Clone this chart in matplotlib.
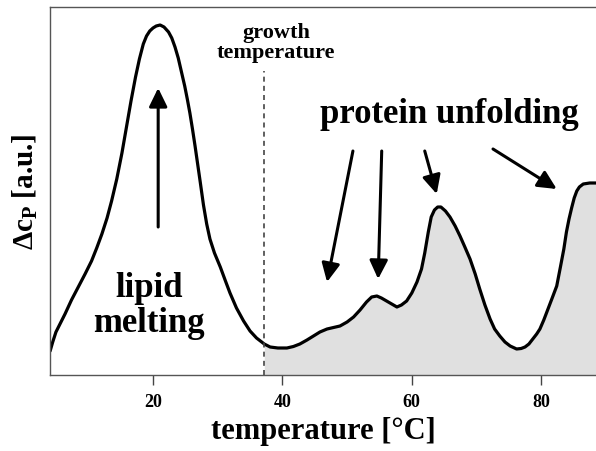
import matplotlib
matplotlib.use("Agg")
import matplotlib.pyplot as plt
import numpy as np

# DSC trace (temperature in °C, delta cp in arbitrary units)
temperature = [4.1, 4.5, 5.0, 5.7, 6.4, 7.4, 8.45, 9.5, 10.5, 11.3, 12.1, 12.9, 13.6,
               14.4, 15.2, 15.9, 16.6, 17.3, 17.9, 18.5, 19.0, 19.5, 20.0, 20.5, 21.1,
               21.7, 22.4, 22.9, 23.4, 23.9, 24.4, 24.9, 25.3, 25.7, 26.1, 26.5, 26.9,
               27.3, 27.8, 28.3, 28.8, 29.5, 30.4, 31.2, 31.9, 32.9, 34.0, 35.0, 36.0,
               37.2, 38.1, 39.3, 40.7, 41.7, 42.7, 43.8, 44.8, 45.8, 46.9, 47.9, 48.9,
               50.0, 51.0, 52.0, 53.0, 53.8, 54.6, 55.3, 56.1, 56.9, 57.7, 58.4, 59.2,
               60.0, 60.8, 61.5, 62.0, 62.55, 63.0, 63.5, 64.0, 64.5, 65.2, 65.9, 66.7,
               67.45, 68.2, 69.0, 69.8, 70.5, 71.3, 72.1, 72.8, 73.6, 74.4, 75.2, 76.2,
               76.9, 77.5, 78.1, 78.7, 79.3, 79.8, 80.4, 81.05, 81.7, 82.4, 83.0, 83.5,
               83.9, 84.3, 84.7, 85.1, 85.5, 85.9, 86.5, 87.5, 88.6]
delta_cp = [24, 33, 43, 52, 61, 75, 88, 101, 114, 127, 141, 157, 174,
            196, 222, 248, 274, 298, 316, 331, 339, 344, 347, 349, 350,
            348, 343, 337, 328, 317, 303, 289, 276, 262, 246, 229, 211,
            193, 170, 151, 136, 122, 108, 94, 82, 67, 54, 44, 37,
            31, 28, 27, 27, 28.5, 31, 35, 39, 43, 46, 47.5, 49,
            53, 58, 65, 73, 78, 79, 77, 74, 71, 68, 70, 74,
            82, 93, 106, 122, 143, 158, 165, 168, 168, 164, 158, 149,
            139, 128, 116, 101, 86, 70, 56, 46, 39, 33, 29, 26,
            26.5, 28, 31, 36, 41, 46, 55, 66, 77, 89, 109, 126,
            143, 156, 167, 177, 184, 188, 191, 192, 192]

growth_temp = 37.2
x_ticks = [20, 40, 60, 80]

plt.rcParams['font.family'] = ['Liberation Serif', 'DejaVu Serif']
plt.rcParams['font.weight'] = 'bold'
plt.rcParams['axes.labelweight'] = 'bold'
plt.rcParams['mathtext.fontset'] = 'custom'
plt.rcParams['mathtext.rm'] = 'Liberation Serif:bold'
plt.rcParams['mathtext.it'] = 'Liberation Serif:bold'

T = np.array(temperature)
cp = np.array(delta_cp)

fig = plt.figure(figsize=(5.96, 4.52), dpi=100)
ax = fig.add_axes([50/596, 1-376/452, 546/596, 368/452])

# shaded protein region (right of growth temperature)
ax.fill_between(T, 0, cp, where=T >= growth_temp, color="#e0e0e0", lw=0)
ax.plot(T, cp, color="black", lw=2.3, solid_joinstyle="round", solid_capstyle="round")
ax.plot([growth_temp, growth_temp], [0, 304], color="#444444", lw=1.2, linestyle=(0, (3, 2.5)))

arrow = dict(arrowstyle="-|>,head_length=0.45,head_width=0.22", color="black", lw=2.2,
             shrinkA=0, shrinkB=0, mutation_scale=25)
ax.annotate("", xy=(20.8, 287), xytext=(20.8, 148), arrowprops=arrow)
ax.annotate("", xy=(46.9, 93), xytext=(50.9, 224), arrowprops=arrow)
ax.annotate("", xy=(54.8, 96), xytext=(55.35, 224), arrowprops=arrow)
ax.annotate("", xy=(63.85, 181), xytext=(62.0, 224), arrowprops=arrow)
ax.annotate("", xy=(82.4, 186), xytext=(72.55, 226), arrowprops=arrow)

ax.text(39.0, 333, "growth\ntemperature", fontsize=16, ha="center", va="center", linespacing=0.95)
ax.text(19.4, 70, "lipid\nmelting", fontsize=25, ha="center", va="center", linespacing=1.05)
ax.text(65.75, 261, "protein unfolding", fontsize=25, ha="center", va="center")

ax.set_xlim(4.08, 88.47)
ax.set_ylim(0, 368)
ax.set_xticks(x_ticks)
ax.set_yticks([])
ax.tick_params(axis="x", length=7, width=1, labelsize=13, pad=6, color="#444444")
ax.spines["right"].set_visible(False)
for s in ["left", "bottom", "top"]:
    ax.spines[s].set_color("#555555")
    ax.spines[s].set_linewidth(1)

ax.set_xlabel("temperature [°C]", fontsize=22, labelpad=4)
ax.set_ylabel("Δc$_{\\mathrm{P}}$ [a.u.]", fontsize=21, labelpad=7)

fig.savefig("out.png", dpi=100)
